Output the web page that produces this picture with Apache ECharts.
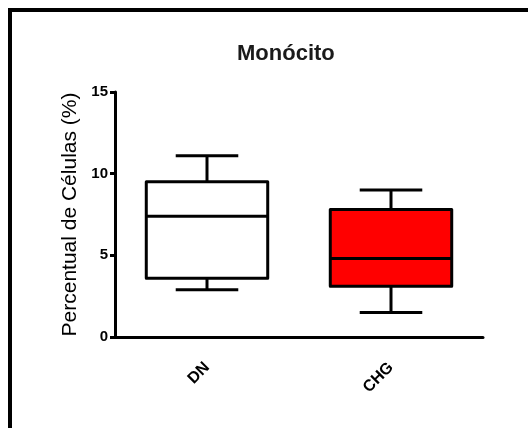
<!DOCTYPE html>
<html>
<head>
<meta charset="utf-8">
<script src="https://cdn.jsdelivr.net/npm/echarts@6/dist/echarts.min.js"></script>
<style>
  html, body { margin: 0; padding: 0; background: #fff; overflow: hidden; }
  #chart { width: 528px; height: 428px; position: absolute; left: 0; top: 0; }
  #frame {
    position: absolute;
    left: 8px;
    top: 8px;
    width: 700px;
    height: 700px;
    border: 4px solid #000;
    pointer-events: none;
  }
</style>
</head>
<body>
<div id="chart"></div>
<div id="frame"></div>
<script>
  // box plot values
  const categories = ["DN", "CHG"];
  const lowValues = [2.9, 1.5];
  const q1Values = [3.6, 3.1];
  const medianValues = [7.4, 4.8];
  const q3Values = [9.5, 7.8];
  const highValues = [11.1, 9.0];
  const boxColors = ["#ffffff", "#ff0000"];

  const boxData = categories.map((c, i) => [i, lowValues[i], q1Values[i], medianValues[i], q3Values[i], highValues[i]]);

  const renderBox = (params, api) => {
    const i = api.value(0);
    const low = api.coord([i, api.value(1)]);
    const q1 = api.coord([i, api.value(2)]);
    const med = api.coord([i, api.value(3)]);
    const q3 = api.coord([i, api.value(4)]);
    const high = api.coord([i, api.value(5)]);
    const band = api.size([1, 0])[0];
    const bw = band * 0.66;
    const cw = band * 0.34;
    const cx = q1[0];
    const stroke = { stroke: "#000", lineWidth: 3, lineJoin: "round" };
    return {
      type: "group",
      children: [
        { type: "line", shape: { x1: cx, y1: low[1], x2: cx, y2: q1[1] }, style: stroke },
        { type: "line", shape: { x1: cx, y1: q3[1], x2: cx, y2: high[1] }, style: stroke },
        { type: "line", shape: { x1: cx - cw / 2, y1: low[1], x2: cx + cw / 2, y2: low[1] }, style: stroke },
        { type: "line", shape: { x1: cx - cw / 2, y1: high[1], x2: cx + cw / 2, y2: high[1] }, style: stroke },
        {
          type: "rect",
          shape: { x: cx - bw / 2, y: q3[1], width: bw, height: q1[1] - q3[1] },
          style: Object.assign({ fill: boxColors[params.dataIndex] }, stroke)
        },
        { type: "line", shape: { x1: cx - bw / 2, y1: med[1], x2: cx + bw / 2, y2: med[1] }, style: stroke }
      ]
    };
  };

  const option = {
    animation: false,
    backgroundColor: "#fff",
    title: {
      text: "Monócito",
      left: 232,
      top: 38,
      textStyle: {
        fontFamily: "Liberation Sans",
        fontSize: 22,
        fontWeight: "bold",
        color: "#1a1a1a"
      }
    },
    grid: {
      left: 115,
      right: 45,
      top: 92,
      bottom: 91
    },
    xAxis: {
      type: "category",
      data: categories,
      axisLine: { lineStyle: { color: "#000", width: 3 } },
      axisTick: { alignWithLabel: true, length: 8, lineStyle: { color: "#000", width: 3 } },
      axisLabel: {
        rotate: 45,
        margin: 28,
        color: "#000",
        fontFamily: "Liberation Sans",
        fontSize: 16,
        fontWeight: "bold"
      },
      splitLine: { show: false }
    },
    yAxis: {
      type: "value",
      min: 0,
      max: 15,
      interval: 5,
      name: "Percentual de Células (%)",
      nameLocation: "middle",
      nameGap: 34,
      nameTextStyle: {
        fontFamily: "Liberation Sans",
        fontSize: 21,
        color: "#000"
      },
      axisLine: { show: true, lineStyle: { color: "#000", width: 3 } },
      axisTick: { show: true, length: 5, lineStyle: { color: "#000", width: 3 } },
      axisLabel: {
        margin: 7,
        color: "#000",
        fontFamily: "Liberation Sans",
        fontSize: 15,
        fontWeight: "bold"
      },
      splitLine: { show: false }
    },
    series: [
      {
        name: "Monócito",
        type: "custom",
        renderItem: renderBox,
        encode: { x: 0, y: [1, 2, 3, 4, 5] },
        data: boxData
      }
    ]
  };

  const chart = echarts.init(document.getElementById("chart"));
  chart.setOption(option);
</script>
</body>
</html>
